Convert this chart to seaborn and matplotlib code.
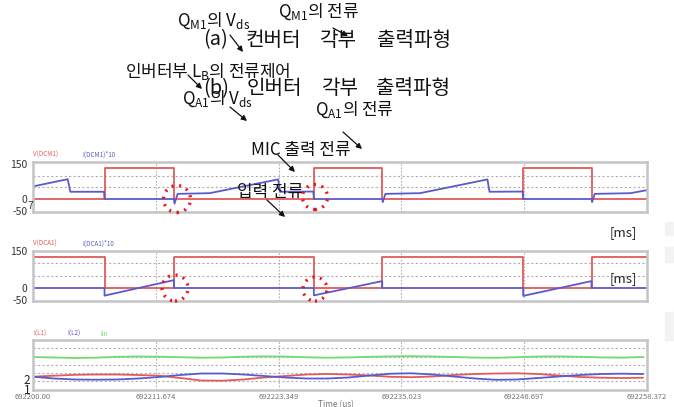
import numpy as np
import pandas as pd
import matplotlib
matplotlib.use("Agg")
import matplotlib.pyplot as plt
import seaborn as sns
from matplotlib.patches import Ellipse, FancyArrowPatch, Rectangle

# ---------------- data ----------------
T0 = 692200.0
xtick_values = [692200.00, 692211.674, 692223.349, 692235.023, 692246.697, 692258.372]
xtick_labels = ["692200.00", "692211.674", "692223.349", "692235.023", "692246.697", "692258.372"]

# (a) converter: V(DCM1) and I(DCM1)*10, time offset in us
dcm1_v_t = [0, 6.8, 6.8, 13.4, 13.4, 26.7, 26.7, 33.2, 33.2, 46.6, 46.6, 53.1, 53.1, 58.372]
dcm1_v = [0, 0, 133, 133, 0, 0, 133, 133, 0, 0, 133, 133, 0, 0]
dcm1_i_t = [0, 3.3, 3.55, 6.75, 6.8, 13.4, 13.45, 13.75, 16.8, 23.3, 23.5, 26.65, 26.7,
            33.2, 33.25, 33.5, 36.8, 43.2, 43.4, 46.55, 46.6, 53.1, 53.15, 53.4, 56.8, 58.372]
dcm1_i = [54, 85, 31, 31, 0, 0, -20, 22, 25, 84, 31, 32, 0,
          0, -13, 22, 25, 84, 31, 32, 0, 0, -13, 22, 25, 38]

# (b) inverter: V(DCA1) and I(DCA1)*10
dca1_v_t = [0, 6.8, 6.8, 13.4, 13.4, 26.7, 26.7, 33.2, 33.2, 46.6, 46.6, 53.1, 53.1, 58.372]
dca1_v = [125, 125, 0, 0, 125, 125, 0, 0, 125, 125, 0, 0, 125, 125]
dca1_i_t = [0, 6.8, 6.8, 13.4, 13.4, 26.7, 26.7, 33.2, 33.2, 46.6, 46.6, 53.1, 53.1, 58.372]
dca1_i = [0, 0, -31, 32, 0, 0, -30, 28, 0, 0, -32, 28, 0, 0]

# (c) inductor / input currents (relative units)
l_t = [0, 2, 4, 6, 8, 10, 12, 14, 16, 18, 20, 22, 24, 26, 28, 30, 32, 34, 36, 38,
       40, 42, 44, 46, 48, 50, 52, 54, 56, 58]
i_l1 = [13.3, 14.3, 15.2, 15.5, 15.5, 15.0, 14.3, 12.0, 9.5, 9.3, 10.5, 12.5, 14.0, 15.5, 16.0,
        15.5, 14.5, 13.2, 12.8, 13.5, 15.0, 16.0, 16.5, 16.7, 16.0, 14.5, 13.0, 12.3, 12.0, 12.3]
i_l2 = [13.3, 11.5, 10.5, 10.3, 10.5, 11.5, 13.0, 15.0, 16.5, 16.5, 15.5, 14.0, 12.5, 11.5, 11.5,
        12.5, 14.5, 16.3, 16.7, 15.5, 13.5, 11.5, 10.2, 10.5, 12.0, 13.5, 15.0, 16.0, 16.3, 16.0]
i_in = [33.0, 32.5, 32.0, 32.3, 33.2, 33.5, 33.3, 32.8, 32.3, 32.5, 33.3, 33.6, 33.4, 32.7, 32.3,
        32.6, 33.2, 33.6, 33.8, 33.5, 33.0, 32.4, 32.2, 32.8, 33.5, 33.6, 33.2, 32.6, 32.4, 33.0]

# title words (text, left x)
title_a = [("(a)", 203), ("컨버터", 246), ("각부", 319), ("출력파형", 377)]
title_b = [("(b)", 203), ("인버터", 247), ("각부", 321), ("출력파형", 376)]

# ---------------- style ----------------
sns.set_theme(style="white")
plt.rcParams["font.family"] = ["Noto Sans CJK KR", "DejaVu Sans"]
plt.rcParams["axes.unicode_minus"] = False

RED = "#e25a5a"
BLUE = "#5a5acd"
GREEN = "#6fdc6f"
GRID = "#b0b0b0"

W, H = 674, 407
fig = plt.figure(figsize=(W / 100, H / 100), dpi=100)


def box(l, t, r, b):
    return [l / W, 1 - b / H, (r - l) / W, (b - t) / H]


def fx(x):
    return x / W


def fy(y):
    return 1 - y / H


def style_axis(ax, ylim, hgrid):
    ax.set_xlim(T0, xtick_values[-1])
    ax.set_ylim(*ylim)
    ax.set_xticks(xtick_values)
    ax.tick_params(length=0)
    for s in ax.spines.values():
        s.set_color("#c4c4c4")
        s.set_linewidth(1.8)
    for v in xtick_values[1:-1]:
        ax.axvline(v, color=GRID, lw=0.8, ls=(0, (1.5, 1.5)), zorder=0)
    for h in hgrid:
        ax.axhline(h, color=GRID, lw=0.8, ls=(0, (2, 2)), zorder=0)
    ax.set_xlabel("")
    ax.set_ylabel("")


def draw(ax, t, y, color):
    df = pd.DataFrame({"t": np.array(t) + T0, "y": y})
    sns.lineplot(data=df, x="t", y="y", ax=ax, color=color, lw=1.3,
                 estimator=None, sort=False)


# panel (a)
ax1 = fig.add_axes(box(33, 162, 647, 212))
draw(ax1, dcm1_v_t, dcm1_v, RED)
draw(ax1, dcm1_i_t, dcm1_i, BLUE)
style_axis(ax1, (-55.7, 158.6), [100, 50])
ax1.set_yticks([150, 0, -50])
ax1.set_yticklabels(["150", "0", "-50"], fontsize=7.5, color="#333333")
ax1.tick_params(axis="y", pad=4)
ax1.set_xticklabels([])

# panel (b)
ax2 = fig.add_axes(box(33, 251, 647, 301))
draw(ax2, dca1_v_t, dca1_v, RED)
draw(ax2, dca1_i_t, dca1_i, BLUE)
style_axis(ax2, (-52.7, 150), [100, 50])
ax2.set_yticks([150, 0, -50])
ax2.set_yticklabels(["150", "0", "-50"], fontsize=7.5, color="#333333")
ax2.tick_params(axis="y", pad=4)
ax2.set_xticklabels([])

# panel (c)
ax3 = fig.add_axes(box(33, 340, 647, 390))
draw(ax3, l_t, i_in, GREEN)
draw(ax3, l_t, i_l1, RED)
draw(ax3, l_t, i_l2, BLUE)
style_axis(ax3, (0, 50), [42, 33.5, 25, 17, 9])
ax3.set_yticks([])
ax3.set_xticklabels(xtick_labels, fontsize=5.5, color="#777777")
ax3.tick_params(axis="x", pad=2.5)

# tiny legends
fig.text(fx(33), fy(155), "V(DCM1)", color=RED, fontsize=4.5, va="center")
fig.text(fx(82), fy(155), "I(DCM1)*10", color=BLUE, fontsize=4.5, va="center")
fig.text(fx(33), fy(244), "V(DCA1)", color=RED, fontsize=4.5, va="center")
fig.text(fx(82), fy(244), "I(DCA1)*10", color=BLUE, fontsize=4.5, va="center")
fig.text(fx(33), fy(334), "I(L1)", color=RED, fontsize=4.5, va="center")
fig.text(fx(67), fy(334), "I(L2)", color=BLUE, fontsize=4.5, va="center")
fig.text(fx(100), fy(334), "Iin", color=GREEN, fontsize=4.5, va="center")

# stray labels
fig.text(fx(30), fy(206), "7", fontsize=7.5, color="#333333", ha="center", va="center")
fig.text(fx(27), fy(381), "2", fontsize=8.5, color="#222222", ha="center", va="center")
fig.text(fx(27), fy(391), "1", fontsize=8.5, color="#222222", ha="center", va="center")
fig.text(fx(336), fy(405), "Time (us)", fontsize=6, color="#777777", ha="center", va="center")
fig.text(fx(610), fy(233), "[ms]", fontsize=9.5, color="#222222", va="center")
fig.text(fx(610), fy(279), "[ms]", fontsize=9.5, color="#222222", va="center")

# titles
for s, x in title_a:
    fig.text(fx(x), fy(40), s, fontsize=14.5, color="#111111", va="center")
for s, x in title_b:
    fig.text(fx(x), fy(89), s, fontsize=14.5, color="#111111", va="center")

# annotations
ann = [
    (r"Q$_\mathregular{M1}$의 전류", 278, 12),
    (r"Q$_\mathregular{M1}$의 V$_\mathregular{ds}$", 177, 21),
    (r"인버터부 L$_\mathregular{B}$의 전류제어", 125, 71),
    (r"Q$_\mathregular{A1}$의 V$_\mathregular{ds}$", 182, 99),
    (r"Q$_\mathregular{A1}$의 전류", 315, 110),
    ("MIC 출력 전류", 251, 150),
    ("입력 전류", 237, 192),
]
for s, x, y in ann:
    fig.text(fx(x), fy(y), s, fontsize=12.2, color="#111111", va="center")

arrows = [
    ((333, 28), (348, 36)),
    ((230, 35), (243, 52)),
    ((188, 75), (202, 89)),
    ((230, 107), (247, 121)),
    ((343, 132), (362, 149)),
    ((278, 155), (295, 172)),
    ((267, 200), (285, 217)),
]
for (x0, y0), (x1, y1) in arrows:
    fig.add_artist(FancyArrowPatch((fx(x0), fy(y0)), (fx(x1), fy(y1)),
                                   transform=fig.transFigure, arrowstyle="-|>",
                                   mutation_scale=8, lw=0.9, color="#111111",
                                   shrinkA=0, shrinkB=0, zorder=10))

# red dotted circles
circles = [(177, 199, 13.5), (315, 197, 12.5), (175, 288, 13), (315, 289, 12)]
for cx, cy, r in circles:
    fig.add_artist(Ellipse((fx(cx), fy(cy)), 2 * r / W, 2 * r / H,
                           transform=fig.transFigure, fill=False, ec="#e8141c",
                           lw=2.4, ls=(0, (0.6, 1.7)), zorder=11))

# faint page remnants at right edge
for y0, y1 in [(222, 235), (247, 262), (312, 340)]:
    fig.add_artist(Rectangle((fx(665), fy(y1)), 9 / W, (y1 - y0) / H,
                             transform=fig.transFigure, color="#f3f3f3", zorder=0))

fig.savefig("out.png", dpi=100)
